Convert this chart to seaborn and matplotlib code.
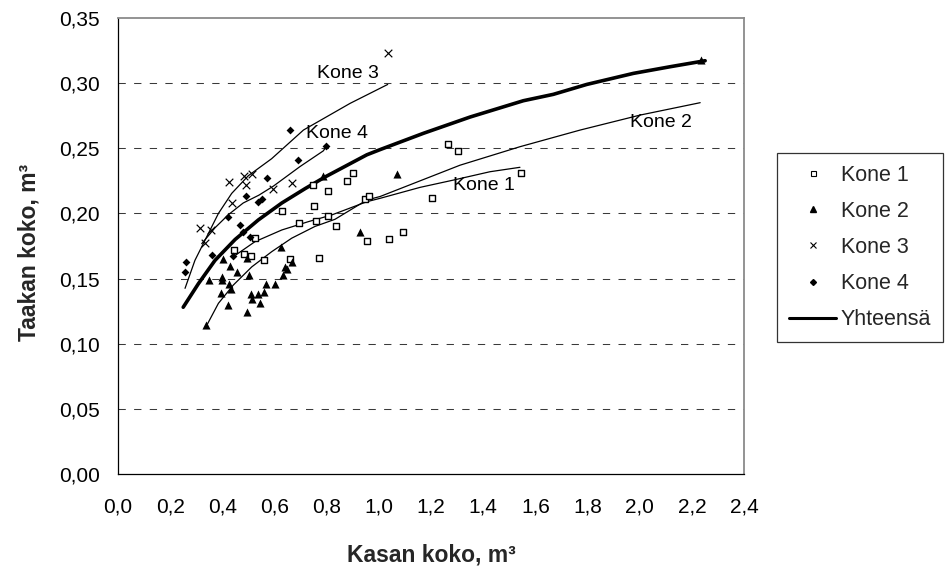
import matplotlib
matplotlib.use("Agg")
import matplotlib.pyplot as plt
from matplotlib.lines import Line2D
import pandas as pd
import seaborn as sns

# --- Observations per machine: pile size (m3) vs. load size (m3) ---
kone1_x = [0.445, 0.484, 0.509, 0.525, 0.561, 0.629, 0.660, 0.695, 0.748, 0.753, 0.760, 0.772, 0.806,
           0.806, 0.836, 0.877, 0.900, 0.946, 0.954, 0.964, 1.040, 1.094, 1.205, 1.264, 1.305, 1.545]
kone1_y = [0.172, 0.169, 0.167, 0.181, 0.164, 0.202, 0.165, 0.193, 0.222, 0.206, 0.194, 0.166, 0.217,
           0.198, 0.190, 0.225, 0.231, 0.211, 0.179, 0.213, 0.180, 0.186, 0.212, 0.253, 0.248, 0.231]

kone2_x = [0.339, 0.350, 0.396, 0.398, 0.400, 0.401, 0.421, 0.427, 0.431, 0.435, 0.456, 0.496, 0.496,
           0.502, 0.509, 0.515, 0.538, 0.543, 0.561, 0.567, 0.602, 0.626, 0.632, 0.639, 0.648, 0.667,
           0.787, 0.929, 1.070, 2.234]
kone2_y = [0.114, 0.149, 0.139, 0.151, 0.149, 0.165, 0.130, 0.146, 0.160, 0.142, 0.155, 0.166, 0.124,
           0.153, 0.138, 0.134, 0.138, 0.131, 0.140, 0.146, 0.146, 0.174, 0.153, 0.159, 0.157, 0.163,
           0.229, 0.186, 0.230, 0.318]

kone3_x = [0.314, 0.334, 0.355, 0.426, 0.437, 0.484, 0.492, 0.514, 0.596, 0.667, 1.034]
kone3_y = [0.189, 0.177, 0.187, 0.224, 0.208, 0.229, 0.222, 0.230, 0.219, 0.223, 0.323]

kone4_x = [0.257, 0.262, 0.362, 0.421, 0.440, 0.468, 0.479, 0.491, 0.507, 0.538, 0.551, 0.571,
           0.661, 0.689, 0.797]
kone4_y = [0.155, 0.163, 0.168, 0.197, 0.167, 0.191, 0.186, 0.213, 0.182, 0.209, 0.211, 0.227,
           0.264, 0.241, 0.252]

# --- Fitted curves ---
fit1_x = [0.442, 0.525, 0.628, 0.730, 0.819, 0.954, 1.005, 1.158, 1.286, 1.426, 1.541]
fit1_y = [0.1668, 0.1783, 0.1873, 0.1937, 0.1988, 0.2090, 0.2116, 0.2200, 0.2256, 0.2320, 0.2354]

fit2_x = [0.340, 0.385, 0.442, 0.513, 0.589, 0.666, 0.755, 0.832, 0.954, 1.005, 1.158, 1.311,
          1.541, 1.772, 2.002, 2.232]
fit2_y = [0.114, 0.131, 0.145, 0.159, 0.1706, 0.181, 0.190, 0.1955, 0.2103, 0.213, 0.225, 0.237,
          0.2512, 0.264, 0.2755, 0.285]

fit3_x = [0.257, 0.295, 0.340, 0.385, 0.436, 0.500, 0.589, 0.711, 0.890, 1.034]
fit3_y = [0.1425, 0.164, 0.182, 0.200, 0.2154, 0.229, 0.242, 0.264, 0.2845, 0.299]

fit4_x = [0.321, 0.372, 0.423, 0.480, 0.540, 0.596, 0.698, 0.787, 0.801]
fit4_y = [0.1768, 0.189, 0.199, 0.208, 0.214, 0.221, 0.236, 0.248, 0.252]

total_x = [0.250, 0.308, 0.372, 0.449, 0.538, 0.628, 0.717, 0.794, 0.954, 1.005, 1.171, 1.350,
           1.554, 1.669, 1.797, 1.976, 2.117, 2.251]
total_y = [0.128, 0.146, 0.164, 0.180, 0.195, 0.208, 0.219, 0.228, 0.245, 0.249, 0.2615, 0.274,
           0.2865, 0.2914, 0.299, 0.3075, 0.3126, 0.3172]

series_names = ["Kone 1", "Kone 2", "Kone 3", "Kone 4"]
total_name = "Yhteensä"

x_ticks = [0.0, 0.2, 0.4, 0.6, 0.8, 1.0, 1.2, 1.4, 1.6, 1.8, 2.0, 2.2, 2.4]
x_tick_labels = ["0,0", "0,2", "0,4", "0,6", "0,8", "1,0", "1,2", "1,4", "1,6", "1,8", "2,0", "2,2", "2,4"]
y_ticks = [0.00, 0.05, 0.10, 0.15, 0.20, 0.25, 0.30, 0.35]
y_tick_labels = ["0,00", "0,05", "0,10", "0,15", "0,20", "0,25", "0,30", "0,35"]

x_label = "Kasan koko, m³"
y_label = "Taakan koko, m³"

# --- Style ---
sns.set_style("white")
plt.rcParams["font.family"] = ["Liberation Sans", "DejaVu Sans"]

W, H = 947, 569
fig = plt.figure(figsize=(W / 100, H / 100), dpi=100)
ax = fig.add_axes([118 / W, 1 - 474 / H, (744 - 118) / W, (474 - 18) / H])

# dashed horizontal grid
ax.set_axisbelow(True)
for yv in y_ticks[1:-1]:
    ax.axhline(yv, color="#3a3a3a", linewidth=0.75, linestyle=(0, (7, 8)), zorder=0)

# scatter points
points = [
    (kone1_x, kone1_y, dict(marker="s", s=20, facecolor="white", edgecolor="black", linewidth=1.0)),
    (kone2_x, kone2_y, dict(marker="^", s=34, color="black", linewidth=0)),
    (kone3_x, kone3_y, dict(marker="x", s=30, color="black", linewidth=0.85)),
    (kone4_x, kone4_y, dict(marker="D", s=16, color="black", linewidth=0)),
]
for (xs, ys, kw) in points:
    sns.scatterplot(x=xs, y=ys, ax=ax, zorder=3, legend=False, **kw)

# fitted curves
for xs, ys in [(fit1_x, fit1_y), (fit2_x, fit2_y), (fit3_x, fit3_y), (fit4_x, fit4_y)]:
    sns.lineplot(x=xs, y=ys, ax=ax, color="black", linewidth=0.9, sort=False,
                 estimator=None, legend=False, zorder=2)
sns.lineplot(x=total_x, y=total_y, ax=ax, color="black", linewidth=2.6, sort=False,
             estimator=None, legend=False, zorder=2)

# curve labels
label_kw = dict(fontsize=14, ha="left", va="center", color="black")
ax.text(0.763, 0.3077, "Kone 3", **label_kw)
ax.text(0.721, 0.2610, "Kone 4", **label_kw)
ax.text(1.963, 0.2700, "Kone 2", **label_kw)
ax.text(1.284, 0.2218, "Kone 1", **label_kw)

# axes
ax.set_xlim(0, 2.4)
ax.set_ylim(0, 0.35)
ax.set_xticks(x_ticks)
ax.set_xticklabels(x_tick_labels)
ax.set_yticks(y_ticks)
ax.set_yticklabels(y_tick_labels)
ax.tick_params(axis="both", direction="out", length=5.8, width=0.75, color="black",
               labelsize=15, labelcolor="black")
ax.tick_params(axis="x", pad=11)
ax.tick_params(axis="y", pad=7.5)

for side in ["left", "bottom"]:
    ax.spines[side].set_color("black")
    ax.spines[side].set_linewidth(0.9)
for side in ["top", "right"]:
    ax.spines[side].set_color("#8a8a8a")
    ax.spines[side].set_linewidth(1.3)

ax.set_xlabel(x_label, fontsize=16.5, fontweight="bold")
ax.set_ylabel(y_label, fontsize=16.5, fontweight="bold")
ax.xaxis.set_label_coords(0.5, (474 - 555) / 456)
ax.xaxis.label.set_va("center")
ax.yaxis.set_label_coords((29 - 118) / 626, (474 - 252) / 456)
ax.yaxis.label.set_va("center")

# legend
handles = [
    Line2D([], [], linestyle="none", marker="s", markersize=3.6, markerfacecolor="white",
           markeredgecolor="black", markeredgewidth=0.8),
    Line2D([], [], linestyle="none", marker="^", markersize=4.2, color="black"),
    Line2D([], [], linestyle="none", marker="x", markersize=3.8, color="black", markeredgewidth=0.8),
    Line2D([], [], linestyle="none", marker="D", markersize=3.0, color="black"),
    Line2D([], [], color="black", linewidth=2.2),
]
leg = ax.legend(handles, series_names + [total_name], loc="upper left",
                bbox_to_anchor=(777 / W, 1 - 153 / H), bbox_transform=fig.transFigure,
                fontsize=15.5, frameon=True, fancybox=False, shadow=False, borderaxespad=0,
                borderpad=0.55, labelspacing=0.70, handlelength=2.2, handletextpad=0.2)
leg.get_frame().set_edgecolor("black")
leg.get_frame().set_linewidth(0.9)

fig.savefig("out.png", dpi=100)
